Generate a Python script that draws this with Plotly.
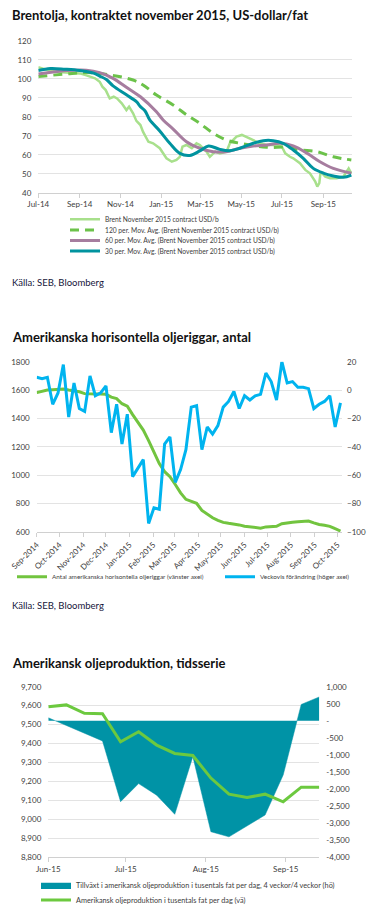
import pandas as pd
import plotly.graph_objects as go

# ---------------- Chart 1: Brent November 2015 contract ----------------
brent_dates = ["2014-07-01", "2014-07-10", "2014-07-20", "2014-08-01", "2014-08-15", "2014-09-01",
               "2014-09-10", "2014-09-24", "2014-10-01", "2014-10-05", "2014-10-10", "2014-10-16",
               "2014-10-22", "2014-10-27", "2014-11-03", "2014-11-10", "2014-11-14", "2014-11-20",
               "2014-11-25", "2014-12-01", "2014-12-05", "2014-12-13", "2014-12-20", "2014-12-30",
               "2015-01-09", "2015-01-17", "2015-01-24", "2015-01-29", "2015-02-02", "2015-02-08",
               "2015-02-16", "2015-02-23", "2015-02-28", "2015-03-10", "2015-03-15", "2015-03-23",
               "2015-03-30", "2015-04-09", "2015-04-14", "2015-04-19", "2015-04-24", "2015-05-02",
               "2015-05-09", "2015-05-19", "2015-05-29", "2015-06-08", "2015-06-23", "2015-07-01",
               "2015-07-06", "2015-07-13", "2015-07-18", "2015-07-28", "2015-08-05", "2015-08-12",
               "2015-08-20", "2015-08-23", "2015-08-26", "2015-08-28", "2015-09-04", "2015-09-11",
               "2015-09-21", "2015-10-01", "2015-10-09", "2015-10-13"]
brent_vals = [106.0, 105.0, 104.0, 103.5, 103.3, 102.8,
              101.9, 100.2, 98.4, 95.8, 94.0, 89.6,
              90.5, 89.6, 87.0, 83.5, 85.3, 81.8,
              77.8, 75.6, 72.0, 66.8, 66.0, 63.4,
              58.1, 56.3, 57.2, 58.9, 64.2, 65.1,
              63.4, 66.0, 65.1, 61.6, 58.9, 61.6,
              60.7, 61.6, 66.0, 67.7, 69.5, 70.4,
              69.2, 67.7, 66.0, 65.1, 65.1, 64.2,
              60.7, 58.9, 58.1, 55.5, 52.0, 50.2,
              45.8, 43.2, 45.0, 51.1, 48.4, 47.6,
              47.6, 48.4, 52.8, 50.2]

ma120_dates = ["2014-07-01", "2014-08-12", "2014-09-11", "2014-10-16", "2014-11-20", "2014-12-05",
               "2014-12-25", "2015-01-19", "2015-02-08", "2015-02-28", "2015-03-20", "2015-04-09",
               "2015-04-29", "2015-06-08", "2015-07-08", "2015-07-28", "2015-08-22", "2015-09-16",
               "2015-10-13"]
ma120_vals = [101.1, 102.5, 103.2, 102.0, 99.3, 96.7,
              91.4, 86.2, 81.0, 76.5, 71.3, 67.7,
              66.0, 63.9, 63.9, 62.5, 61.6, 58.9,
              57.2]

ma60_dates = ["2014-07-01", "2014-08-12", "2014-09-11", "2014-10-01", "2014-10-21", "2014-11-10",
              "2014-12-01", "2014-12-25", "2015-01-04", "2015-01-19", "2015-02-08", "2015-02-28",
              "2015-03-20", "2015-04-09", "2015-04-29", "2015-05-19", "2015-06-08", "2015-06-28",
              "2015-07-18", "2015-08-08", "2015-08-27", "2015-09-16", "2015-10-13"]
ma60_vals = [102.5, 104.3, 104.5, 103.2, 100.2, 95.5,
             90.5, 82.6, 78.3, 73.5, 66.8, 63.4,
             61.6, 61.6, 63.4, 64.6, 65.1, 66.0,
             64.6, 60.7, 56.3, 52.8, 50.2]

ma30_dates = ["2014-07-01", "2014-07-19", "2014-08-10", "2014-09-01", "2014-09-23", "2014-10-01",
              "2014-10-11", "2014-10-21", "2014-11-10", "2014-11-25", "2014-12-01", "2014-12-08",
              "2014-12-15", "2014-12-30", "2015-01-14", "2015-01-29", "2015-02-13", "2015-02-28",
              "2015-03-13", "2015-03-30", "2015-04-14", "2015-04-29", "2015-05-19", "2015-06-03",
              "2015-06-18", "2015-07-03", "2015-07-18", "2015-08-02", "2015-08-17", "2015-09-02",
              "2015-09-16", "2015-10-01", "2015-10-13"]
ma30_vals = [104.3, 105.4, 105.0, 104.3, 102.8, 101.4,
             99.6, 96.2, 91.5, 87.9, 85.3, 83.0,
             78.3, 72.5, 66.0, 60.7, 59.6, 62.0,
             64.6, 62.8, 62.1, 63.4, 66.0, 67.4,
             67.4, 66.0, 62.5, 58.1, 52.8, 50.2,
             48.8, 48.1, 49.3]

# ---------------- Chart 2: US horizontal oil rigs ----------------
rig_dates = pd.date_range("2014-09-01", periods=58, freq="7D")
rig_count = [1582, 1592, 1600, 1603, 1605, 1607, 1600, 1595, 1588, 1575,
             1572, 1572, 1572, 1570, 1550, 1540, 1504, 1486, 1427, 1375,
             1318, 1244, 1162, 1082, 1025, 990, 935, 876, 830, 815,
             802, 752, 724, 700, 682, 668, 661, 657, 650, 641,
             637, 631, 627, 636, 640, 640, 658, 665, 669, 672,
             674, 677, 664, 653, 648, 640, 623, 607]
rig_change = [9, 8, 9, -10, -2, 18, -19, 5, -13, -15,
              10, -4, -2, 3, -30, -10, -38, -17, -61, -55,
              -49, -94, -83, -84, -38, -33, -65, -56, -42, -12,
              -11, -42, -26, -31, -25, -12, -8, -1, -13, -4,
              -7, -4, -3, 12, 6, -7, 20, 5, 6, 2,
              2, 1, -13, -10, -8, -4, -26, -9]

# ---------------- Chart 3: US oil production ----------------
prod_dates = pd.date_range("2015-06-01", periods=16, freq="7D")
prod_level = [9594, 9604, 9560, 9557, 9409, 9462, 9392, 9348,
              9337, 9218, 9133, 9115, 9133, 9093, 9170, 9170]
prod_growth = [90, -140, -370, -590, -2370, -1840, -2180, -2740,
               -1050, -3250, -3400, -3080, -2760, -1590, 480, 700]
growth_ticks = [1000, 500, 0, -500, -1000, -1500, -2000, -2500, -3000, -3500, -4000]
growth_ticktext = ["1,000", "500", "-", "-500", "-1,000", "-1,500", "-2,000",
                   "-2,500", "-3,000", "-3,500", "-4,000"]

# ---------------- layout helpers ----------------
W, H = 369, 908
def fy(p):
    return 1 - p / H
def fx(p):
    return p / W

FONT = "Lato, Roboto, sans-serif"
TICK_FONT = dict(family=FONT, size=8, color="#404040")
LEG_FONT_1 = dict(family=FONT, size=6.7, color="#404040")
LEG_FONT_2 = dict(family=FONT, size=6.4, color="#404040")
LEG_FONT_3 = dict(family=FONT, size=7.3, color="#404040")
TITLE_FONT = dict(family=FONT, size=13, color="#111111")
SRC_FONT = dict(family=FONT, size=9.5, color="#15153a")
GRID = "#e3e3e3"
AXLINE = "#d0d0d0"

fig = go.Figure()

# Chart 1 traces
fig.add_trace(go.Scatter(x=brent_dates, y=brent_vals, mode="lines",
                         line=dict(color="#a8e08c", width=2.5),
                         name="Brent November 2015 contract USD/b",
                         xaxis="x", yaxis="y", legend="legend"))
fig.add_trace(go.Scatter(x=ma120_dates, y=ma120_vals, mode="lines",
                         line=dict(color="#6cc24a", width=3, dash="9px,6px", shape="spline"),
                         name="120 per. Mov. Avg. (Brent November 2015 contract USD/b)",
                         xaxis="x", yaxis="y", legend="legend2"))
fig.add_trace(go.Scatter(x=ma60_dates, y=ma60_vals, mode="lines",
                         line=dict(color="#a67d9f", width=3, shape="spline"),
                         name="60 per. Mov. Avg. (Brent November 2015 contract USD/b)",
                         xaxis="x", yaxis="y", legend="legend3"))
fig.add_trace(go.Scatter(x=ma30_dates, y=ma30_vals, mode="lines",
                         line=dict(color="#00939f", width=3, shape="spline"),
                         name="30 per. Mov. Avg. (Brent November 2015 contract USD/b)",
                         xaxis="x", yaxis="y", legend="legend4"))

# Chart 2 traces
fig.add_trace(go.Scatter(x=rig_dates, y=rig_count, mode="lines",
                         line=dict(color="#72c43f", width=3),
                         name="Antal amerikanska horisontella oljeriggar (vänster axel)",
                         xaxis="x2", yaxis="y2", legend="legend5"))
fig.add_trace(go.Scatter(x=rig_dates, y=rig_change, mode="lines",
                         line=dict(color="#00b4ef", width=3),
                         name="Veckovis förändring (höger axel)",
                         xaxis="x2", yaxis="y3", legend="legend8"))

# Chart 3 traces
fig.add_trace(go.Scatter(x=prod_dates, y=prod_growth, mode="lines", fill="tozeroy",
                         fillcolor="#0093a6", line=dict(color="#0093a6", width=0.5),
                         name="Tillväxt i amerikansk oljeproduktion i tusentals fat per dag, 4 veckor/4 veckor (hö)",
                         xaxis="x3", yaxis="y4", legend="legend6"))
fig.add_trace(go.Scatter(x=prod_dates, y=prod_level, mode="lines",
                         line=dict(color="#6cc93f", width=3),
                         name="Amerikansk oljeproduktion i tusentals fat per dag (vä)",
                         xaxis="x3", yaxis="y5", legend="legend7"))

common_x = dict(type="date", showgrid=False, showline=True, linecolor=AXLINE, linewidth=1,
                ticks="outside", ticklen=4, tickcolor=AXLINE, tickfont=TICK_FONT, zeroline=False,
                automargin=False)
common_y = dict(showgrid=True, gridcolor=GRID, gridwidth=1, zeroline=False, showline=False,
                ticks="", tickfont=TICK_FONT, automargin=False)

def leg(x, y, font, xanchor="left", orientation="v"):
    return dict(x=x, y=y, xanchor=xanchor, yanchor="middle", orientation=orientation,
                bgcolor="rgba(0,0,0,0)", font=font, itemwidth=30, borderwidth=0,
                tracegroupgap=0)

fig.update_layout(
    width=W, height=H, margin=dict(l=0, r=0, t=0, b=0, autoexpand=False),
    paper_bgcolor="white", plot_bgcolor="white",
    xaxis=dict(common_x, domain=[fx(38.3), fx(352)], anchor="y",
               range=["2014-07-01", "2015-10-14"], tick0="2014-07-01", dtick="M2",
               tickformat="%b-%y"),
    yaxis=dict(common_y, domain=[fy(192.7), fy(40.7)], anchor="x", range=[40, 120], dtick=10,
               ticklabelstandoff=6),
    xaxis2=dict(common_x, domain=[fx(36.7), fx(342)], anchor="y2",
                range=["2014-09-01", "2015-10-07"], tick0="2014-09-01", dtick="M1",
                tickformat="%b-%Y", tickangle=-45),
    yaxis2=dict(common_y, domain=[fy(532), fy(361.7)], anchor="x2", range=[600, 1800], dtick=200,
                ticklabelstandoff=6),
    yaxis3=dict(common_y, overlaying="y2", side="right", anchor="x2", range=[-100, 20], dtick=20,
                showgrid=False, ticklabelstandoff=4),
    xaxis3=dict(common_x, domain=[fx(48.3), fx(319.3)], anchor="y4",
                range=["2015-06-01", "2015-09-14"], tick0="2015-06-01", dtick="M1",
                tickformat="%b-%y"),
    yaxis4=dict(common_y, domain=[fy(857.3), fy(686.7)], anchor="x3", side="right",
                range=[-4000, 1000], tickvals=growth_ticks, ticktext=growth_ticktext,
                showgrid=False, ticklabelstandoff=6),
    yaxis5=dict(common_y, overlaying="y4", side="left", anchor="x3", range=[8800, 9700],
                dtick=100, tickformat=",", ticklabelstandoff=6),
    legend=leg(fx(65), fy(219.3), LEG_FONT_1),
    legend2=leg(fx(65), fy(229.9), LEG_FONT_1),
    legend3=leg(fx(65), fy(240.5), LEG_FONT_1),
    legend4=leg(fx(65), fy(251.1), LEG_FONT_1),
    legend5=leg(fx(12), fy(576.7), LEG_FONT_2),
    legend8=leg(fx(220), fy(576.7), LEG_FONT_2),
    legend6=leg(fx(36), fy(885), LEG_FONT_3),
    legend7=leg(fx(36), fy(900), LEG_FONT_3),
    showlegend=True,
)

annotations = [
    dict(text="<b>Brentolja, kontraktet november 2015, US-dollar/fat</b>", x=fx(10), y=fy(15)),
    dict(text="Källa: SEB, Bloomberg", x=fx(10), y=fy(282.7), font=SRC_FONT),
    dict(text="<b>Amerikanska horisontella oljeriggar, antal</b>", x=fx(10), y=fy(336.7)),
    dict(text="Källa: SEB, Bloomberg", x=fx(10), y=fy(605.7), font=SRC_FONT),
    dict(text="<b>Amerikansk oljeproduktion, tidsserie</b>", x=fx(10), y=fy(662.7)),
]
for a in annotations:
    fig.add_annotation(xref="paper", yref="paper", x=a["x"], y=a["y"], text=a["text"],
                       showarrow=False, xanchor="left", yanchor="middle",
                       font=a.get("font", TITLE_FONT))

fig.write_html("out.html", config={"displayModeBar": False},
               post_script="document.body.style.margin='0';document.body.style.overflow='hidden';")
